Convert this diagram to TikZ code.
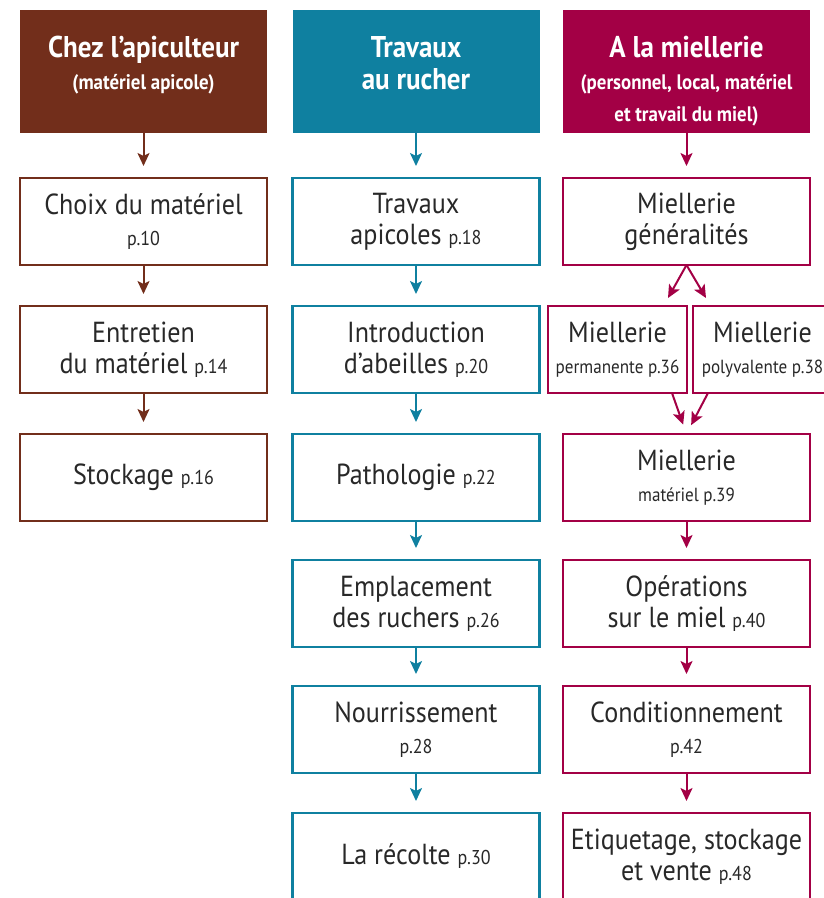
\documentclass[tikz,border=0pt]{standalone}
\usepackage{fontspec}
\setmainfont[FakeStretch=0.9]{PT Sans}
\usetikzlibrary{arrows, arrows.meta, positioning, shapes, calc}
\definecolor{brun}{RGB}{114,46,27}
\definecolor{bleu}{RGB}{15,128,160}
\definecolor{rouge}{RGB}{163,0,69}
\definecolor{texte}{RGB}{40,40,40}
\tikzstyle{head} = [rectangle, minimum width=247pt, minimum height=123pt, inner sep=0pt, outer sep=0pt, text=white, align=center, font=\bfseries\fontsize{30}{32}\selectfont]
\tikzstyle{box} = [rectangle, draw, line width=2.3pt, minimum width=247pt, minimum height=87pt, inner sep=0pt, outer sep=0pt, text=texte, align=center, font=\fontsize{29}{31}\selectfont]
\tikzstyle{half} = [box, minimum width=139pt]
\tikzstyle{arrow} = [-{Stealth[length=13pt, width=12pt, inset=3pt]}, line width=2pt, shorten >=12pt]
\newcommand{\entete}[1]{\parbox[c][71pt][t]{240pt}{\centering #1}}
\newcommand{\pg}[1]{{\fontsize{20}{22}\selectfont p.#1}}
\newcommand{\sous}[1]{{\fontsize{21}{22}\selectfont #1}}
\newcommand{\petit}[1]{{\fontsize{19}{22}\selectfont #1}}

\begin{document}
\begin{tikzpicture}[x=1pt, y=1pt]
    \useasboundingbox (0,0) rectangle (823,-898);

    % Chez l'apiculteur
    \node[head, fill=brun] (api) at (143.5,-71.5)
        {\entete{Chez l’apiculteur\\ \sous{(matériel apicole)}}};
    \node[box, draw=brun, below=45pt of api] (choix) {Choix du matériel\\ \pg{10}};
    \node[box, draw=brun, below=41pt of choix] (entretien) {Entretien\\ du matériel \pg{14}};
    \node[box, draw=brun, below=41pt of entretien] (stockage) {Stockage \pg{16}};

    % Travaux au rucher
    \node[head, fill=bleu] (rucher) at (416,-71.5) {\entete{Travaux\\ au rucher}};
    \node[box, draw=bleu, below=45pt of rucher] (travaux) {Travaux\\ apicoles \pg{18}};
    \node[box, draw=bleu, below=41pt of travaux] (intro) {Introduction\\ d’abeilles \pg{20}};
    \node[box, draw=bleu, below=41pt of intro] (patho) {Pathologie \pg{22}};
    \node[box, draw=bleu, below=39pt of patho] (emplacement) {Emplacement\\ des ruchers \pg{26}};
    \node[box, draw=bleu, below=39pt of emplacement] (nourri) {Nourrissement\\ \pg{28}};
    \node[box, draw=bleu, below=40pt of nourri] (recolte) {La récolte \pg{30}};

    % A la miellerie
    \node[head, fill=rouge] (miellerie) at (686.5,-71.5)
        {\entete{A la miellerie\\ \sous{(personnel, local, matériel}\\ \sous{et travail du miel)}}};
    \node[box, draw=rouge, below=45pt of miellerie] (generalites) {Miellerie\\ généralités};
    \node[half, draw=rouge] (permanente) at (617.5,-349.5) {Miellerie\\ \petit{permanente p.36}};
    \node[half, draw=rouge] (polyvalente) at (762.5,-349.5) {Miellerie\\ \petit{polyvalente p.38}};
    \node[box, draw=rouge] (materiel) at (686.5,-477.5) {Miellerie\\ \petit{matériel p.39}};
    \node[box, draw=rouge, below=39pt of materiel] (operations) {Opérations\\ sur le miel \pg{40}};
    \node[box, draw=rouge, below=39pt of operations] (condition) {Conditionnement\\ \pg{42}};
    \node[box, draw=rouge, below=40pt of condition] (etiquetage) {Etiquetage, stockage\\ et vente \pg{48}};

    % The arrows
    \draw[arrow, brun] (api) -- (choix);
    \draw[arrow, brun] (choix) -- (entretien);
    \draw[arrow, brun] (entretien) -- (stockage);

    \draw[arrow, bleu] (rucher) -- (travaux);
    \draw[arrow, bleu] (travaux) -- (intro);
    \draw[arrow, bleu] (intro) -- (patho);
    \draw[arrow, bleu] (patho) -- (emplacement);
    \draw[arrow, bleu] (emplacement) -- (nourri);
    \draw[arrow, bleu] (nourri) -- (recolte);

    \draw[arrow, rouge] (miellerie) -- (generalites);
    \draw[arrow, rouge, shorten >=0pt] (generalites.south) -- ($(permanente.north east)+(-19,8)$);
    \draw[arrow, rouge, shorten >=0pt] (generalites.south) -- ($(polyvalente.north west)+(13,8)$);
    \draw[arrow, rouge, shorten >=10pt] ($(permanente.south east)+(-15,0)$) -- (materiel.north);
    \draw[arrow, rouge, shorten >=10pt] ($(polyvalente.south west)+(15,0)$) -- (materiel.north);
    \draw[arrow, rouge] (materiel) -- (operations);
    \draw[arrow, rouge] (operations) -- (condition);
    \draw[arrow, rouge] (condition) -- (etiquetage);
\end{tikzpicture}
\end{document}
